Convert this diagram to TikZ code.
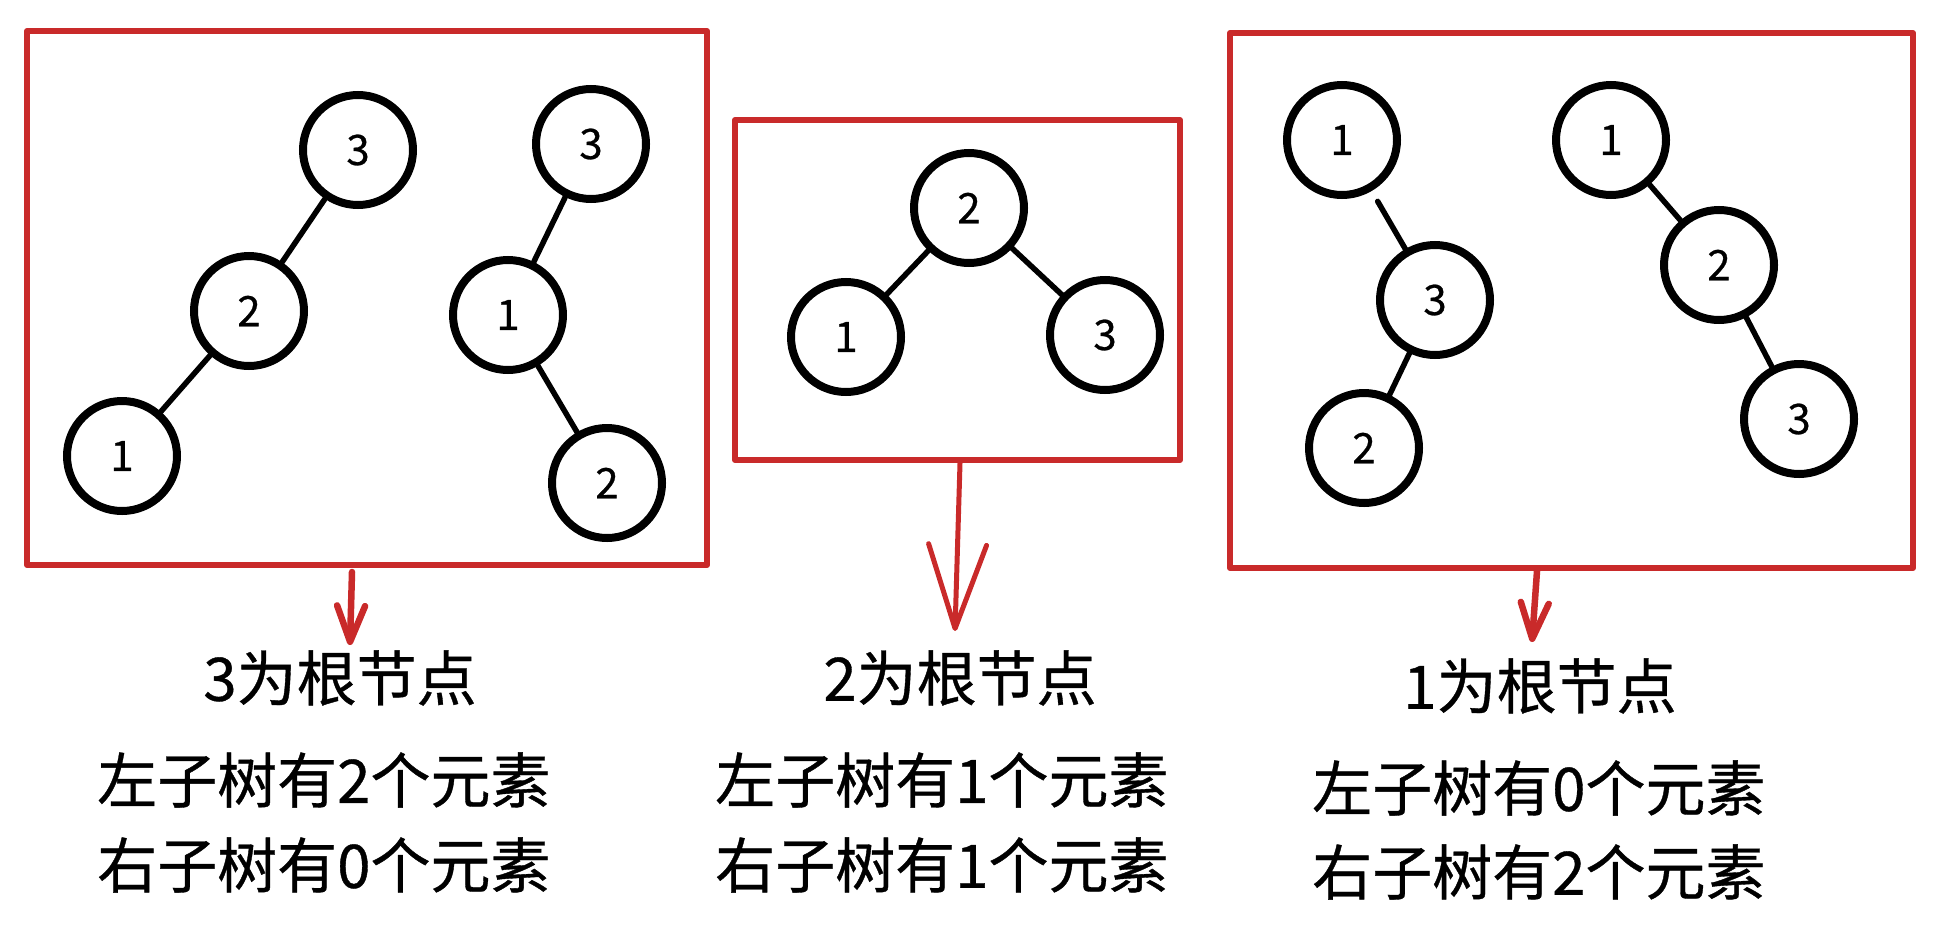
\documentclass[tikz,border=0pt]{standalone}
\usepackage{fontspec}
\newfontfamily\cjk{Noto Sans CJK SC}[AutoFakeBold=0.6]
\usetikzlibrary{arrows.meta}
\definecolor{exred}{HTML}{C92A2A}
\tikzset{
  tn/.style={circle, draw=black, line width=8pt, minimum size=110pt, inner sep=0pt, font=\cjk\bfseries\fontsize{42}{42}\selectfont},
  edge/.style={line width=5.5pt, line cap=round},
  redbox/.style={draw=exred, line width=6pt, line join=round},
  smallarrow/.style={draw=exred, line width=6.5pt, line cap=round, -{Straight Barb[length=36pt,width=28pt,round]}},
  bigarrow/.style={draw=exred, line width=5pt, line cap=round, -{Straight Barb[length=84pt,width=58pt,round]}},
  title/.style={font=\cjk\bfseries\fontsize{60}{60}\selectfont, inner sep=0pt},
  txt/.style={font=\cjk\bfseries\fontsize{60}{60}\selectfont, inner sep=0pt, anchor=west}
}
\begin{document}
\begin{tikzpicture}[x=1pt,y=-1pt]
\useasboundingbox (0,0) rectangle (1938,945);
% boxes
\draw[redbox] (27,31) rectangle (707,565);
\draw[redbox] (735,120) rectangle (1180,460);
\draw[redbox] (1230,33) rectangle (1913,568);
% box 1, tree a
\node[tn] (a3) at (358,150) {3};
\node[tn] (a2) at (249,311) {2};
\node[tn] (a1) at (122,456) {1};
\draw[edge] (a3) -- (a2);
\draw[edge] (a2) -- (a1);
% box 1, tree b
\node[tn] (b3) at (591,144) {3};
\node[tn] (b1) at (508,315) {1};
\node[tn] (b2) at (607,483) {2};
\draw[edge] (b3) -- (b1);
\draw[edge] (b1) -- (b2);
% box 2
\node[tn] (c2) at (969,208) {2};
\node[tn] (c1) at (846,337) {1};
\node[tn] (c3) at (1105,335) {3};
\draw[edge] (c2) -- (c1);
\draw[edge] (c2) -- (c3);
% box 3, tree a
\node[tn] (d1) at (1342,140) {1};
\node[tn] (d3) at (1435,300) {3};
\node[tn] (d2) at (1364,448) {2};
\draw[edge, shorten <=12pt] (d1) -- (d3);
\draw[edge] (d3) -- (d2);
% box 3, tree b
\node[tn] (e1) at (1611,140) {1};
\node[tn] (e2) at (1719,265) {2};
\node[tn] (e3) at (1799,419) {3};
\draw[edge] (e1) -- (e2);
\draw[edge] (e2) -- (e3);
% arrows
\coordinate (p1s) at (352,572);
\coordinate (p1e) at (350,645);
\coordinate (p2s) at (960,463);
\coordinate (p2e) at (955,631);
\coordinate (p3s) at (1537,571);
\coordinate (p3e) at (1532,642);
\draw[smallarrow] (p1s) -- (p1e);
\draw[bigarrow] (p2s) -- (p2e);
\draw[smallarrow] (p3s) -- (p3e);
% texts
\node[title] (t1) at (340,678) {3为根节点};
\node[txt] (l1a) at (97,780) {左子树有2个元素};
\node[txt] (l1b) at (97,865) {右子树有0个元素};
\node[title] (t2) at (960,678) {2为根节点};
\node[txt] (l2a) at (715,780) {左子树有1个元素};
\node[txt] (l2b) at (715,865) {右子树有1个元素};
\node[title] (t3) at (1540,686) {1为根节点};
\node[txt] (l3a) at (1312,788) {左子树有0个元素};
\node[txt] (l3b) at (1312,872) {右子树有2个元素};
\end{tikzpicture}
\end{document}
